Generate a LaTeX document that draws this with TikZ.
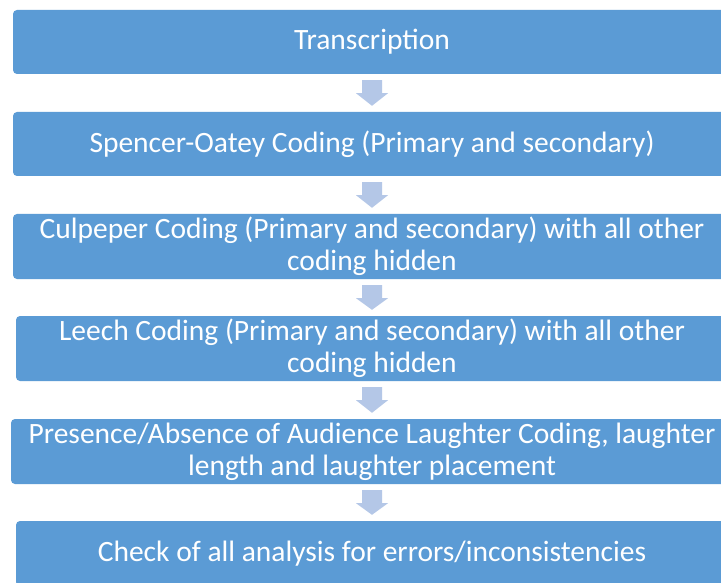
\documentclass[tikz,border=0pt]{standalone}
\usepackage{fontspec}
\setmainfont{Carlito}
\usetikzlibrary{calc}
\definecolor{boxblue}{HTML}{5B9BD5}
\definecolor{arrowblue}{HTML}{B4C7E7}
\tikzset{
  x=1pt, y=-1pt,
  stepbox/.style={fill=boxblue, draw=none, rounded corners=4pt, minimum height=65pt,
    text=white, align=center, inner sep=0pt,
    font=\fontsize{29.5}{32}\selectfont},
}
\newcommand{\flowarrow}[2]{%
  \fill[arrowblue] ($(#1.south)+(-10pt,-6pt)$) -- ($(#1.south)+(10pt,-6pt)$)
    -- ($(#1.south)+(10pt,-19pt)$) -- ($(#1.south)+(16pt,-19pt)$)
    -- ($(#2.north)+(0pt,6pt)$)
    -- ($(#1.south)+(-16pt,-19pt)$) -- ($(#1.south)+(-10pt,-19pt)$) -- cycle;}
\begin{document}
\begin{tikzpicture}
\useasboundingbox (0,0) rectangle (721,583);
\clip (0,0) rectangle (721,583);
\fill[white] (0,0) rectangle (721,583);
\node[stepbox, minimum width=718pt, minimum height=64pt] (b1) at (372,42) {Transcription};
\node[stepbox, minimum width=718pt, minimum height=64pt] (b2) at (372,144) {Spencer-Oatey Coding (Primary and secondary)};
\node[stepbox, minimum width=718pt] (b3) at (372,246.5) {Culpeper Coding (Primary and secondary) with all other\\coding hidden};
\node[stepbox, minimum width=712pt] (b4) at (372,348.5) {Leech Coding (Primary and secondary) with all other\\coding hidden};
\node[stepbox, minimum width=722pt] (b5) at (372,451.5) {Presence/Absence of Audience Laughter Coding, laughter\\length and laughter placement};
\node[stepbox, minimum width=712pt] (b6) at (372,553.5) {Check of all analysis for errors/inconsistencies};
\flowarrow{b1}{b2}
\flowarrow{b2}{b3}
\flowarrow{b3}{b4}
\flowarrow{b4}{b5}
\flowarrow{b5}{b6}
\end{tikzpicture}
\end{document}
